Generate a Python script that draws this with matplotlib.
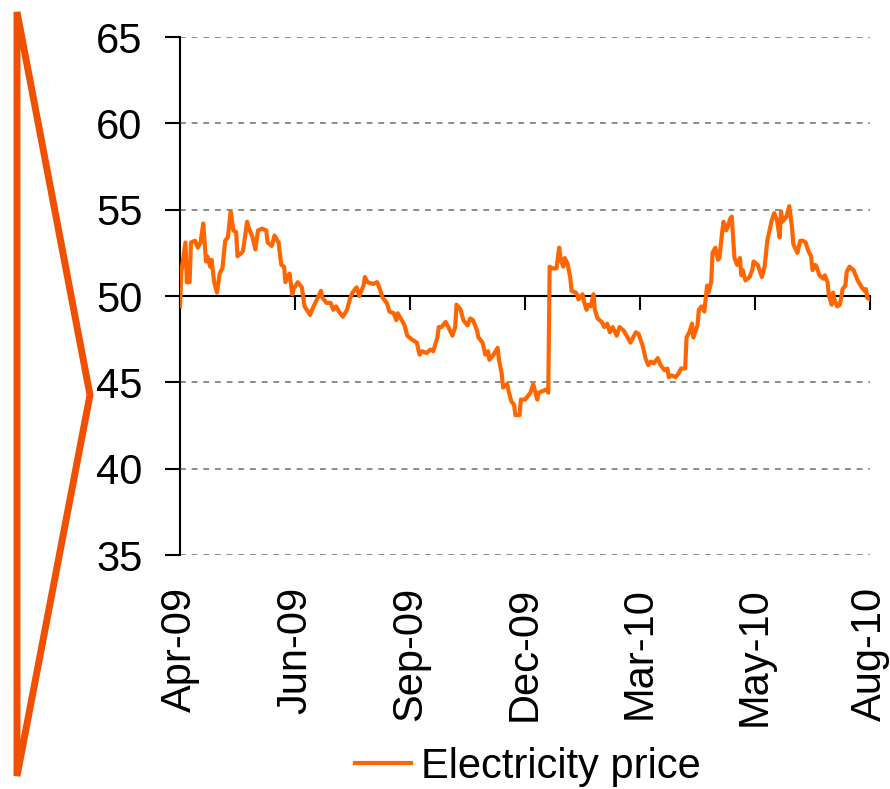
import matplotlib
matplotlib.use('Agg')
import matplotlib.pyplot as plt
from matplotlib.patches import Polygon

# ---- data (days since 1 Apr 2009, price) ----
days = [0, 1, 4, 5, 7, 8, 11, 13, 15, 17, 19, 20, 22, 23, 25, 27, 29, 31, 33, 35,
        37, 39, 41, 42, 45, 46, 49, 50, 53, 55, 57, 60, 63, 64, 67, 69, 72, 74, 76, 77,
        80, 82, 83, 86, 89, 91, 95, 97, 100, 103, 104, 107, 110, 112, 114, 116, 119, 122, 124, 126,
        129, 131, 134, 135, 137, 141, 144, 146, 148, 151, 153, 156, 158, 159, 162, 164, 166, 169, 171, 173,
        175, 177, 180, 183, 185, 188, 189, 191, 194, 196, 199, 201, 202, 205, 207, 210, 212, 214, 217, 218,
        221, 223, 225, 226, 229, 232, 233, 235, 236, 239, 240, 242, 244, 245, 248, 249, 252, 253, 255, 256,
        258, 261, 262, 265, 268, 269, 270, 272, 275, 277, 278, 280, 281, 283, 285, 286, 289, 290, 291, 294,
        295, 297, 298, 300, 302, 303, 305, 308, 310, 312, 314, 316, 319, 321, 324, 327, 329, 331, 333, 335,
        338, 340, 342, 344, 346, 349, 351, 354, 356, 357, 359, 362, 364, 366, 369, 370, 372, 374, 375, 378,
        379, 381, 383, 385, 386, 388, 389, 391, 393, 394, 396, 397, 399, 400, 402, 403, 405, 407, 409, 410,
        411, 413, 416, 418, 419, 422, 425, 427, 429, 432, 434, 436, 438, 439, 440, 443, 445, 447, 448, 451,
        453, 455, 457, 459, 461, 462, 464, 465, 467, 470, 471, 473, 474, 476, 477, 478, 480, 482, 484, 486,
        487, 489, 492, 494, 495, 498, 500, 501, 502, 504]
price = [49.4, 51.4, 53.1, 50.8, 50.8, 53.1, 53.2, 52.8, 53.1, 54.2, 52.0, 52.3, 51.7, 52.1, 50.8, 50.2, 51.3, 51.6, 53.2, 53.4,
         54.9, 53.8, 53.7, 52.3, 52.5, 52.6, 54.3, 54.0, 53.4, 52.7, 53.8, 53.9, 53.8, 53.1, 52.9, 53.5, 53.1, 51.8, 51.7, 50.8,
         51.3, 50.1, 50.4, 50.8, 50.5, 49.4, 48.9, 49.3, 49.8, 50.3, 49.9, 49.6, 49.6, 49.2, 49.4, 49.1, 48.8, 49.2, 49.8, 50.2,
         50.5, 50.0, 50.6, 51.1, 50.8, 50.7, 50.8, 50.4, 49.9, 49.6, 49.1, 49.0, 48.6, 49.0, 48.6, 48.3, 47.7, 47.5, 47.4, 47.3,
         46.6, 46.8, 46.7, 46.9, 46.8, 47.6, 48.2, 48.2, 48.5, 48.2, 47.7, 48.2, 49.5, 49.2, 48.6, 48.3, 48.7, 48.6, 48.0, 47.6,
         47.3, 46.6, 46.8, 46.3, 46.6, 47.0, 46.3, 45.5, 44.7, 44.9, 44.5, 43.9, 43.7, 43.1, 43.1, 44.0, 44.0, 44.1, 44.3, 44.4,
         44.9, 44.0, 44.4, 44.5, 44.6, 44.4, 51.7, 51.6, 51.6, 52.8, 52.1, 51.7, 52.2, 51.9, 51.1, 50.3, 50.2, 50.1, 49.8, 50.1,
         49.7, 49.2, 49.5, 49.4, 50.1, 49.2, 48.7, 48.5, 48.2, 48.4, 47.9, 48.2, 47.7, 48.2, 48.0, 47.6, 47.3, 47.6, 47.9, 47.8,
         47.1, 46.4, 46.0, 46.2, 46.1, 46.4, 46.0, 45.7, 45.8, 45.3, 45.4, 45.3, 45.5, 45.8, 45.8, 47.6, 47.9, 48.4, 47.6, 48.3,
         49.2, 49.4, 49.1, 50.6, 50.2, 50.8, 52.5, 52.8, 52.1, 52.2, 53.7, 54.3, 53.8, 54.0, 54.5, 54.6, 52.2, 51.8, 52.2, 51.2,
         51.5, 50.9, 51.1, 51.5, 52.0, 51.8, 51.1, 51.7, 53.2, 54.3, 54.8, 54.4, 53.4, 54.9, 54.3, 54.6, 55.2, 54.0, 53.0, 52.5,
         53.2, 53.2, 53.1, 52.6, 52.3, 51.5, 51.8, 51.7, 51.2, 51.0, 51.2, 50.8, 50.0, 49.5, 50.2, 49.8, 49.4, 49.5, 50.4, 50.6,
         51.4, 51.7, 51.5, 51.1, 50.9, 50.5, 50.3, 50.4, 49.9, 49.8]
tick_days = [0, 84, 168, 252, 336, 420, 504]
tick_labels = ['Apr-09', 'Jun-09', 'Sep-09', 'Dec-09', 'Mar-10', 'May-10', 'Aug-10']
y_ticks = [35, 40, 45, 50, 55, 60, 65]
series_name = 'Electricity price'

plt.rcParams['font.family'] = ['Liberation Sans', 'DejaVu Sans']

W, H = 890, 789
fig = plt.figure(figsize=(W / 100, H / 100), dpi=100)
ax = fig.add_axes([180 / W, 1 - 555 / H, 690 / W, (555 - 37) / H])

ax.plot(days, price, color='#FF6600', lw=3.0, label=series_name, zorder=3,
        solid_joinstyle='round')
ax.set_xlim(0, 504)
ax.set_ylim(35, 65)
ax.set_yticks(y_ticks)
for v in y_ticks:
    if v != 50:
        ax.axhline(v, color='#8c8c8c', lw=1.4, ls=(0, (3, 3)), zorder=1)

ax.spines['top'].set_visible(False)
ax.spines['right'].set_visible(False)
ax.spines['bottom'].set_position(('data', 50))
ax.spines['left'].set_linewidth(1.5)
ax.spines['bottom'].set_linewidth(1.5)
ax.set_xticks(tick_days)
ax.tick_params(axis='x', direction='out', length=10, width=1.5, labelbottom=False)
ax.tick_params(axis='y', direction='out', length=11, width=1.5, labelsize=30, pad=16)

sec = ax.secondary_xaxis('bottom')
sec.set_xticks(tick_days, tick_labels, rotation=90)
sec.tick_params(length=0, labelsize=30, pad=23)
sec.spines['bottom'].set_visible(False)

ax.legend(loc='center', bbox_to_anchor=(528 / W, 1 - 767 / H), bbox_transform=fig.transFigure,
          frameon=False, fontsize=30, handlelength=1.35, handletextpad=0.25)

# decorative bracket shape at left
shape = Polygon([(17 / W, 1 - 12 / H), (90 / W, 1 - 395 / H), (17 / W, 1 - 776 / H)],
                closed=True, fill=False, edgecolor='#F05000', lw=5,
                transform=fig.transFigure, joinstyle='miter')
fig.add_artist(shape)

fig.savefig('out.png', dpi=100)
